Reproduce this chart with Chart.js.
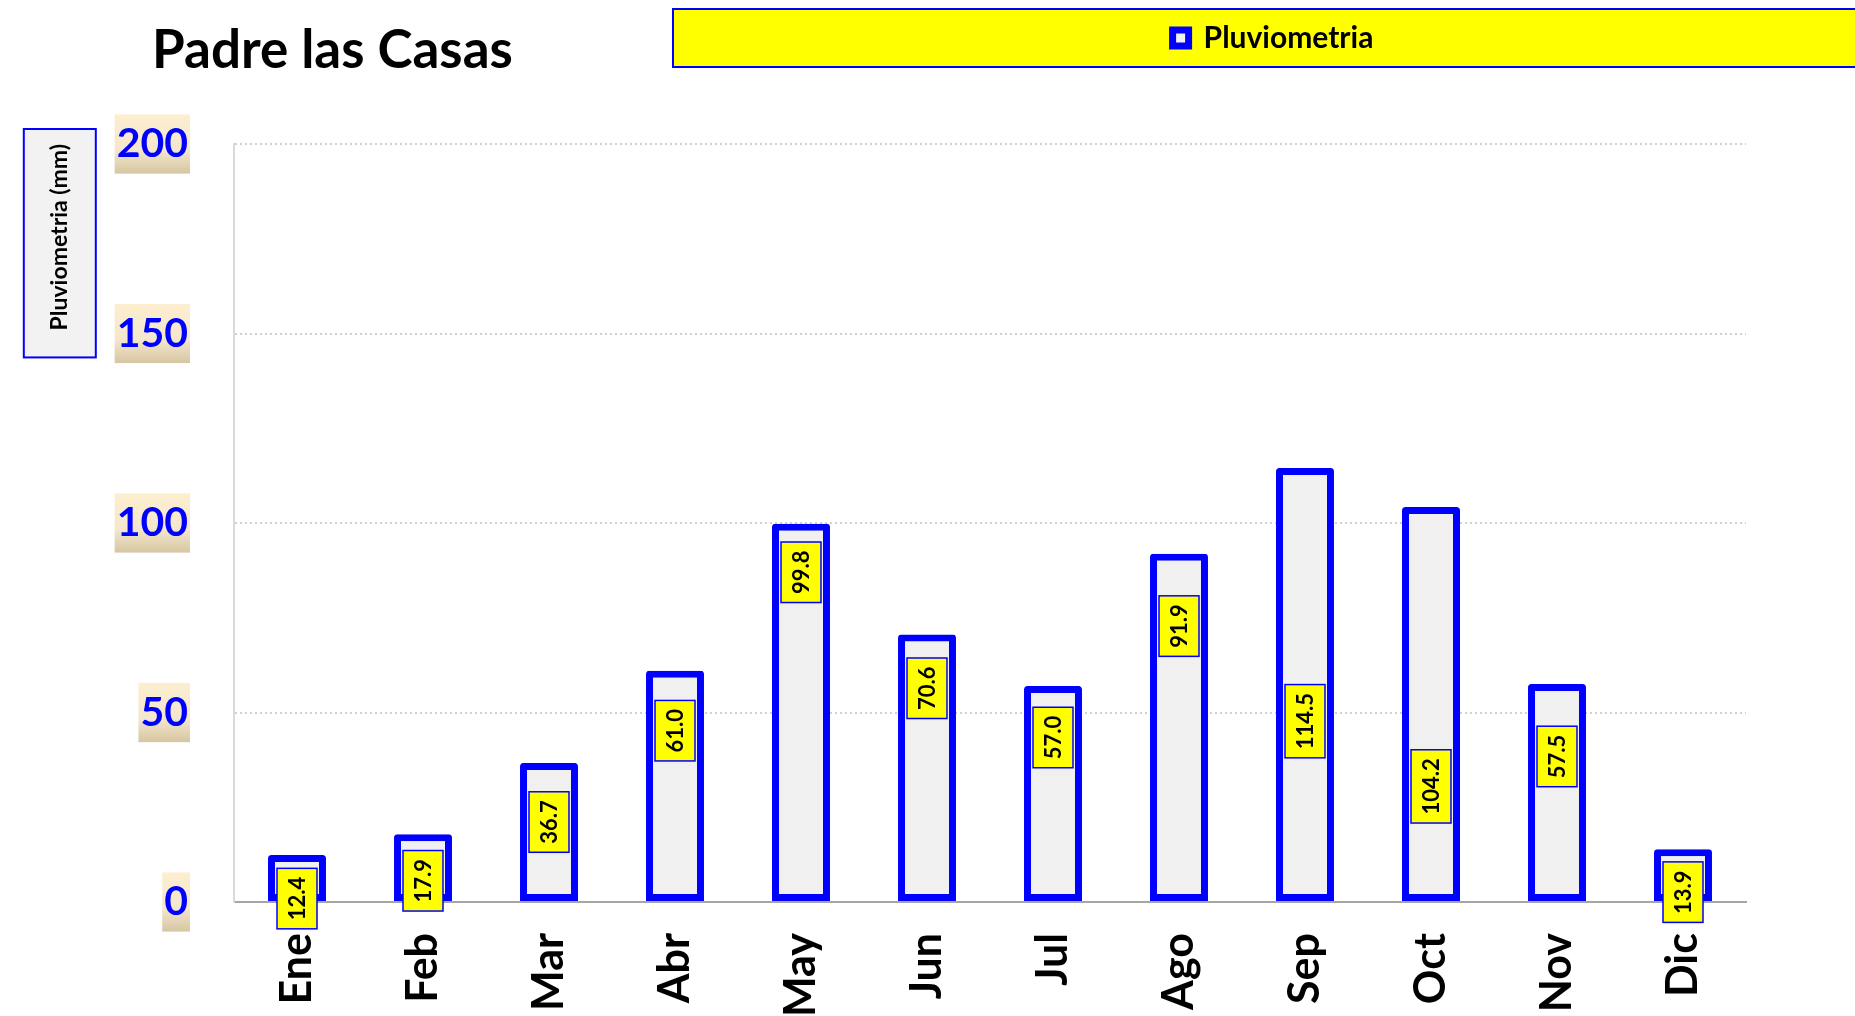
<!DOCTYPE html>
<html><head><meta charset="utf-8">
<script src="https://cdn.jsdelivr.net/npm/chart.js@4.4.0/dist/chart.umd.min.js"></script>
<style>html,body{margin:0;padding:0;background:#fff;} canvas{display:block}</style>
</head><body>
<canvas id="c" width="1855" height="1016"></canvas>
<script>
const categories = ['Ene','Feb','Mar','Abr','May','Jun','Jul','Ago','Sep','Oct','Nov','Dic'];
const pluviometria = [12.4, 17.9, 36.7, 61.0, 99.8, 70.6, 57.0, 91.9, 114.5, 104.2, 57.5, 13.9];
const labelAnchors = [0.9, 5.6, 21.1, 45.2, 87.0, 56.4, 43.4, 72.8, 47.7, 30.5, 38.4, 2.6];
const yTicks = [0, 50, 100, 150, 200];
const seriesName = 'Pluviometria';
const chartTitle = 'Padre las Casas';
const yAxisTitle = 'Pluviometria (mm)';

const canvas = document.getElementById('c');
const ctx0 = canvas.getContext('2d');
const tickGrad = ctx0.createLinearGradient(0, -30, 0, 30);
tickGrad.addColorStop(0, '#fdeecf');
tickGrad.addColorStop(0.6, '#f3e7cd');
tickGrad.addColorStop(1, '#d6c5a1');

const Y_TITLE_FONT = 23;

const decorPlugin = {
  id: 'decor',
  afterLayout(chart) {
    const lg = chart.legend;
    lg.left = 673; lg.right = 1873; lg.top = 9; lg.bottom = 67;
    lg.width = lg.right - lg.left; lg.height = lg.bottom - lg.top;
    chart.titleBlock.left = 152;
  },
  beforeDraw(chart) {
    const ctx = chart.ctx;
    const lg = chart.legend;
    ctx.save();
    ctx.fillStyle = '#ffff00';
    ctx.fillRect(lg.left, lg.top, lg.width, lg.height);
    ctx.strokeStyle = '#0000ff';
    ctx.lineWidth = 2;
    ctx.strokeRect(lg.left, lg.top, lg.width, lg.height);
    const ys = chart.scales.y;
    ctx.font = 'bold ' + Y_TITLE_FONT + 'px Lato';
    const tw = ctx.measureText(yAxisTitle).width;
    const cx = ys.left + 46 + Y_TITLE_FONT * 0.6;
    ctx.fillStyle = '#f2f2f2';
    ctx.fillRect(cx - 36, ys.top - 15, 72, tw + 42);
    ctx.strokeStyle = '#0000ff';
    ctx.lineWidth = 2;
    ctx.strokeRect(cx - 36, ys.top - 15, 72, tw + 42);
    ctx.restore();
  }
};

const valueLabels = {
  id: 'valueLabels',
  afterDatasetsDraw(chart) {
    const ctx = chart.ctx, ys = chart.scales.y;
    const meta = chart.getDatasetMeta(0);
    ctx.save();
    ctx.font = 'bold 22px Lato';
    meta.data.forEach((bar, i) => {
      const txt = pluviometria[i].toFixed(1);
      const tw = ctx.measureText(txt).width;
      const h = tw + 17, w = 40;
      const cy = ys.getPixelForValue(labelAnchors[i]);
      ctx.fillStyle = '#ffff00';
      ctx.fillRect(bar.x - w / 2, cy - h / 2, w, h);
      ctx.strokeStyle = '#0000ff';
      ctx.lineWidth = 1.5;
      ctx.strokeRect(bar.x - w / 2, cy - h / 2, w, h);
      ctx.save();
      ctx.translate(bar.x, cy);
      ctx.rotate(-Math.PI / 2);
      ctx.fillStyle = '#000';
      ctx.textAlign = 'center';
      ctx.textBaseline = 'middle';
      ctx.fillText(txt, 0, 1);
      ctx.restore();
    });
    ctx.restore();
  }
};

new Chart(canvas, {
  type: 'bar',
  data: {
    labels: categories,
    datasets: [{
      label: seriesName,
      data: pluviometria,
      backgroundColor: '#f0f0f0',
      borderColor: '#0000ff',
      borderWidth: 7,
      borderSkipped: false,
      borderRadius: {topLeft: 3, topRight: 3, bottomLeft: 0, bottomRight: 0},
      barPercentage: 0.46,
      categoryPercentage: 1
    }]
  },
  options: {
    responsive: false,
    animation: false,
    devicePixelRatio: 1,
    layout: {padding: {left: 0, right: 109, top: 0, bottom: 0}},
    plugins: {
      title: {
        display: true, text: chartTitle, align: 'start', color: '#000',
        font: {family: 'Lato', size: 53, weight: 'bold', lineHeight: 1},
        padding: {top: 24, bottom: 13}
      },
      legend: {
        display: true, position: 'top',
        labels: {color: '#000', font: {family: 'Lato', size: 30, weight: 'bold'}, boxWidth: 16, boxHeight: 16, padding: 14}
      },
      tooltip: {enabled: false}
    },
    scales: {
      x: {
        grid: {display: false, drawTicks: false},
        border: {display: true, color: '#a6a6a6', width: 2},
        ticks: {color: '#000', font: {family: 'Lato', size: 43, weight: 'bold'}, minRotation: 90, maxRotation: 90, padding: 31, autoSkip: false},
        afterFit: s => { s.height = 114; }
      },
      y: {
        min: 0, max: 200,
        afterBuildTicks: s => { s.ticks = yTicks.map(v => ({value: v})); },
        grid: {color: c => (c.tick && c.tick.value === 0) ? 'rgba(0,0,0,0)' : '#d0d0d0', lineWidth: 2, drawTicks: false},
        border: {color: '#d9d9d9', width: 2, dash: [2, 3]},
        ticks: {
          color: '#0000ff', font: {family: 'Lato', size: 41, weight: 'bold'}, padding: 46,
          showLabelBackdrop: true, backdropColor: tickGrad,
          backdropPadding: {top: 5, bottom: 5, left: 2, right: 2}
        },
        title: {display: true, text: yAxisTitle, align: 'end', color: '#000', font: {family: 'Lato', size: Y_TITLE_FONT, weight: 'bold'}, padding: {top: 46, bottom: 0}},
        afterFit: s => { s.width = 234; }
      }
    }
  },
  plugins: [decorPlugin, valueLabels]
});
</script>
</body></html>
